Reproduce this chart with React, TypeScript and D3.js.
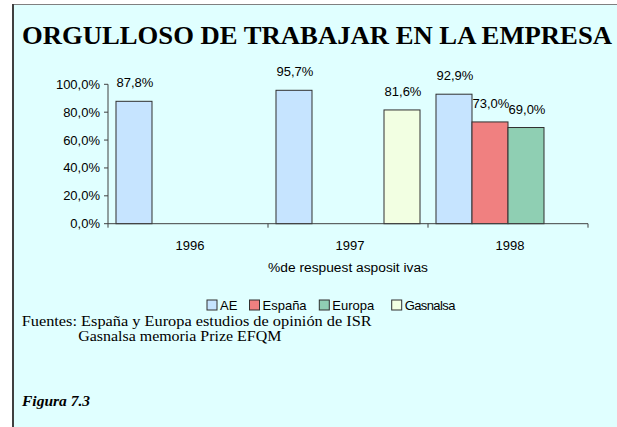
import React from 'react';
import * as d3 from 'd3';

const years = ['1996', '1997', '1998'];
const series = ['AE', 'España', 'Europa', 'Gasnalsa'];
const aeValues = [87.8, 95.7, 92.9];
const espanaValues = [null, null, 73.0];
const europaValues = [null, null, 69.0];
const gasnalsaValues = [null, 81.6, null];
const yTicks = [0, 20, 40, 60, 80, 100];
const colors = ['#C6E4FF', '#F08080', '#8FCFB3', '#F2FFE2'];

const W = 617, H = 427;
const plot = { left: 108, right: 588, top: 84.3, bottom: 223.7 };
const legendX = [207, 249.5, 319.3, 391.7];
const sans = '"Liberation Sans", Arial, sans-serif';
const serif = '"Liberation Serif", "Times New Roman", serif';

const fmt = d3.formatLocale({ decimal: ',', thousands: '.', grouping: [3], currency: ['', '€'] }).format('.1f');

export default function App() {
  const valuesBySeries = [aeValues, espanaValues, europaValues, gasnalsaValues];

  const x0 = d3.scaleBand().domain(years).range([plot.left, plot.right]).padding(0);
  const x1 = d3.scaleBand().domain(series).range([0, x0.bandwidth()]).paddingInner(0).paddingOuter(0.222);
  const y = d3.scaleLinear().domain([0, 100]).range([plot.bottom, plot.top]);

  const bars: { year: string; s: string; v: number; i: number }[] = [];
  years.forEach((yr, yi) => {
    series.forEach((s, si) => {
      const v = valuesBySeries[si][yi];
      if (v !== null) bars.push({ year: yr, s, v: v as number, i: si });
    });
  });

  const catEdges = [...years.map(yr => x0(yr) as number), plot.right];

  return (
    <svg width={W} height={H} style={{ position: 'absolute', left: 0, top: 0 }}>
      <rect x={0} y={0} width={W} height={H} fill="#ffffff" />
      <rect x={13} y={4.5} width={W} height={H} fill="#E0FFFF" />
      <line x1={12} x2={W} y1={4.5} y2={4.5} stroke="#808080" strokeWidth={1} />
      <line x1={13} x2={13} y1={4} y2={H} stroke="#404040" strokeWidth={2} />

      <text x={22} y={43.5} fontFamily={serif} fontWeight="bold" fontSize={25}
        textLength={590} lengthAdjust="spacingAndGlyphs" fill="#000">
        ORGULLOSO DE TRABAJAR EN LA EMPRESA
      </text>

      {bars.map(b => {
        const bx = (x0(b.year) as number) + (x1(b.s) as number);
        const by = y(b.v);
        return (
          <g key={b.year + b.s}>
            <rect x={bx} y={by} width={x1.bandwidth()} height={plot.bottom - by}
              fill={colors[b.i]} stroke="#303030" strokeWidth={1} />
            <text x={bx + x1.bandwidth() / 2 + 1} y={by - 14} textAnchor="middle"
              fontFamily={sans} fontSize={13} fill="#000">{fmt(b.v) + '%'}</text>
          </g>
        );
      })}

      <g stroke="#404040" strokeWidth={1}>
        <line x1={plot.left} x2={plot.left} y1={plot.top} y2={plot.bottom} />
        <line x1={plot.left} x2={plot.right} y1={plot.bottom} y2={plot.bottom} />
        {yTicks.map(t => (
          <line key={t} x1={plot.left - 4} x2={plot.left} y1={y(t)} y2={y(t)} />
        ))}
        {catEdges.map((cx, i) => (
          <line key={i} x1={cx} x2={cx} y1={plot.bottom} y2={plot.bottom + 4} />
        ))}
      </g>
      {yTicks.map(t => (
        <text key={t} x={100} y={y(t) + 4.5} textAnchor="end" fontFamily={sans} fontSize={13} fill="#000">
          {fmt(t) + '%'}
        </text>
      ))}
      {years.map(yr => (
        <text key={yr} x={(x0(yr) as number) + x0.bandwidth() / 2 + 2} y={250} textAnchor="middle"
          fontFamily={sans} fontSize={13} fill="#000">{yr}</text>
      ))}
      <text x={(plot.left + plot.right) / 2} y={272} textAnchor="middle" fontFamily={sans} fontSize={12.5}
        textLength={160} lengthAdjust="spacingAndGlyphs" fill="#000">
        %de respuest asposit ivas
      </text>

      {series.map((s, i) => (
        <g key={s}>
          <rect x={legendX[i]} y={300} width={10} height={10} fill={colors[i]} stroke="#303030" strokeWidth={1} />
          <text x={legendX[i] + 13} y={309.5} fontFamily={sans} fontSize={13} fill="#000"
            letterSpacing={s === 'Gasnalsa' ? -0.6 : 0}>{s}</text>
        </g>
      ))}

      <text x={21.7} y={326} fontFamily={serif} fontSize={14.5} fill="#000"
        textLength={350} lengthAdjust="spacingAndGlyphs">
        Fuentes: España y Europa estudios de opinión de ISR
      </text>
      <text x={78.3} y={340.5} fontFamily={serif} fontSize={14.5} fill="#000"
        textLength={203} lengthAdjust="spacingAndGlyphs">
        Gasnalsa memoria Prize EFQM
      </text>
      <text x={22} y={406} fontFamily={serif} fontSize={15.5} fontWeight="bold" fontStyle="italic" fill="#000">
        Figura 7.3
      </text>
    </svg>
  );
}
